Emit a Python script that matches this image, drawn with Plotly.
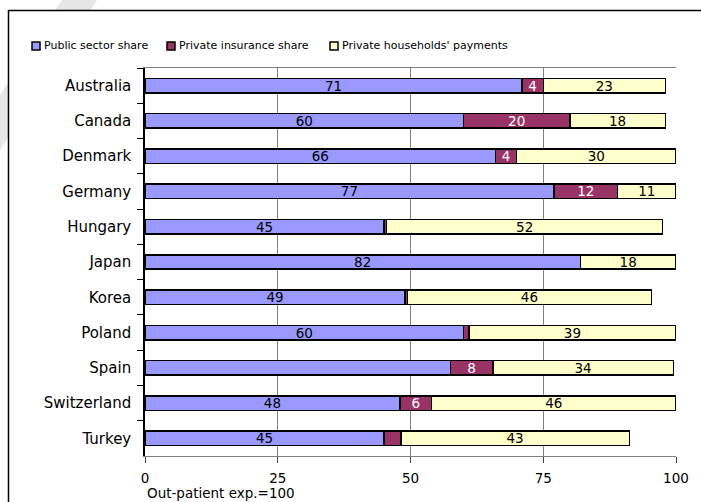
import plotly.graph_objects as go

# Out-patient expenditure by source of funding (Out-patient exp. = 100)
countries = ["Australia", "Canada", "Denmark", "Germany", "Hungary", "Japan",
             "Korea", "Poland", "Spain", "Switzerland", "Turkey"]
public_share = [71, 60, 66, 77, 45, 82, 49, 60, 57.5, 48, 45]
insurance_share = [4, 20, 4, 12, 0.5, 0, 0.4, 1, 8, 6, 3.2]
household_share = [23, 18, 30, 11, 52, 18, 46, 39, 34, 46, 43]

series_names = ["Public sector share", "Private insurance share",
                "Private households' payments"]
series_colors = ["#9999FF", "#993366", "#FFFFCC"]
text_colors = ["black", "white", "black"]

# segments whose value is not printed inside the bar
unlabelled = {
    "Public sector share": {"Spain"},
    "Private insurance share": {"Hungary", "Japan", "Korea", "Poland", "Turkey"},
    "Private households' payments": set(),
}

x_ticks = [0, 25, 50, 75, 100]
x_title = "Out-patient exp.=100"

FONT = "DejaVu Sans"
W, H = 701, 502
PL, PR, PT, PB = 145, 676, 68, 455.6


def px_x(p):
    return (p - PL) / (PR - PL)


def px_y(p):
    return (PB - p) / (PB - PT)


fig = go.Figure()
for name, vals, col, tcol in zip(series_names,
                                 [public_share, insurance_share, household_share],
                                 series_colors, text_colors):
    labels = ["" if c in unlabelled[name] else f"{v:.0f}" for c, v in zip(countries, vals)]
    fig.add_trace(go.Bar(
        y=countries, x=vals, name=name, orientation="h",
        marker=dict(color=col, line=dict(color="black", width=1.5)),
        text=labels, textposition="inside", insidetextanchor="middle",
        textangle=0, constraintext="none",
        textfont=dict(family=FONT, size=13.5, color=tcol),
        showlegend=False, hoverinfo="x+y+name",
    ))

shapes = []
annotations = []

# outer frame and background stroke
shapes.append(dict(type="path", xref="paper", yref="paper", layer="below",
                   path=f"M {px_x(62)} {px_y(0)} L {px_x(97)} {px_y(0)} "
                        f"L {px_x(0)} {px_y(150)} L {px_x(0)} {px_y(95)} Z",
                   fillcolor="#e6e6e6", line=dict(width=0)))
shapes.append(dict(type="rect", xref="paper", yref="paper", layer="below",
                   x0=px_x(8.5), x1=px_x(720), y0=px_y(10.5), y1=px_y(520),
                   fillcolor="white", line=dict(color="black", width=1.5)))

# legend drawn as boxes and labels
legend_box_x = [32, 167, 330]
legend_y = 46
for bx, name, col in zip(legend_box_x, series_names, series_colors):
    shapes.append(dict(type="rect", xref="paper", yref="paper",
                       x0=px_x(bx), x1=px_x(bx + 8), y0=px_y(legend_y - 4), y1=px_y(legend_y + 4),
                       fillcolor=col, line=dict(color="black", width=1.5)))
    annotations.append(dict(xref="paper", yref="paper", x=px_x(bx + 9.5), y=px_y(legend_y),
                            xanchor="left", yanchor="middle", showarrow=False, text=name,
                            font=dict(family=FONT, size=11, color="black")))

annotations.append(dict(xref="paper", yref="paper", x=px_x(145), y=px_y(493),
                        xanchor="left", yanchor="middle", showarrow=False, text=x_title,
                        font=dict(family=FONT, size=13.5, color="black")))

fig.update_layout(
    width=W, height=H, barmode="stack", bargap=0.59,
    margin=dict(l=PL, r=W - PR, t=PT, b=H - PB, pad=0),
    paper_bgcolor="white", plot_bgcolor="white",
    font=dict(family=FONT, color="black"),
    shapes=shapes, annotations=annotations,
    xaxis=dict(range=[0, 100], tickvals=x_ticks, showgrid=True, gridcolor="#808080",
               gridwidth=1, zeroline=False, showline=True, linecolor="#808080",
               linewidth=1, mirror=True, ticks="outside", ticklen=6, tickcolor="#404040",
               tickfont=dict(family=FONT, size=13.5), ticklabelstandoff=4),
    yaxis=dict(autorange="reversed", showline=True, linecolor="black", linewidth=1.5,
               ticks="outside", ticklen=6, tickcolor="black", tickson="boundaries",
               tickfont=dict(family=FONT, size=15), ticklabelstandoff=9,
               showgrid=False, zeroline=False),
)

fig.write_html("out.html")
